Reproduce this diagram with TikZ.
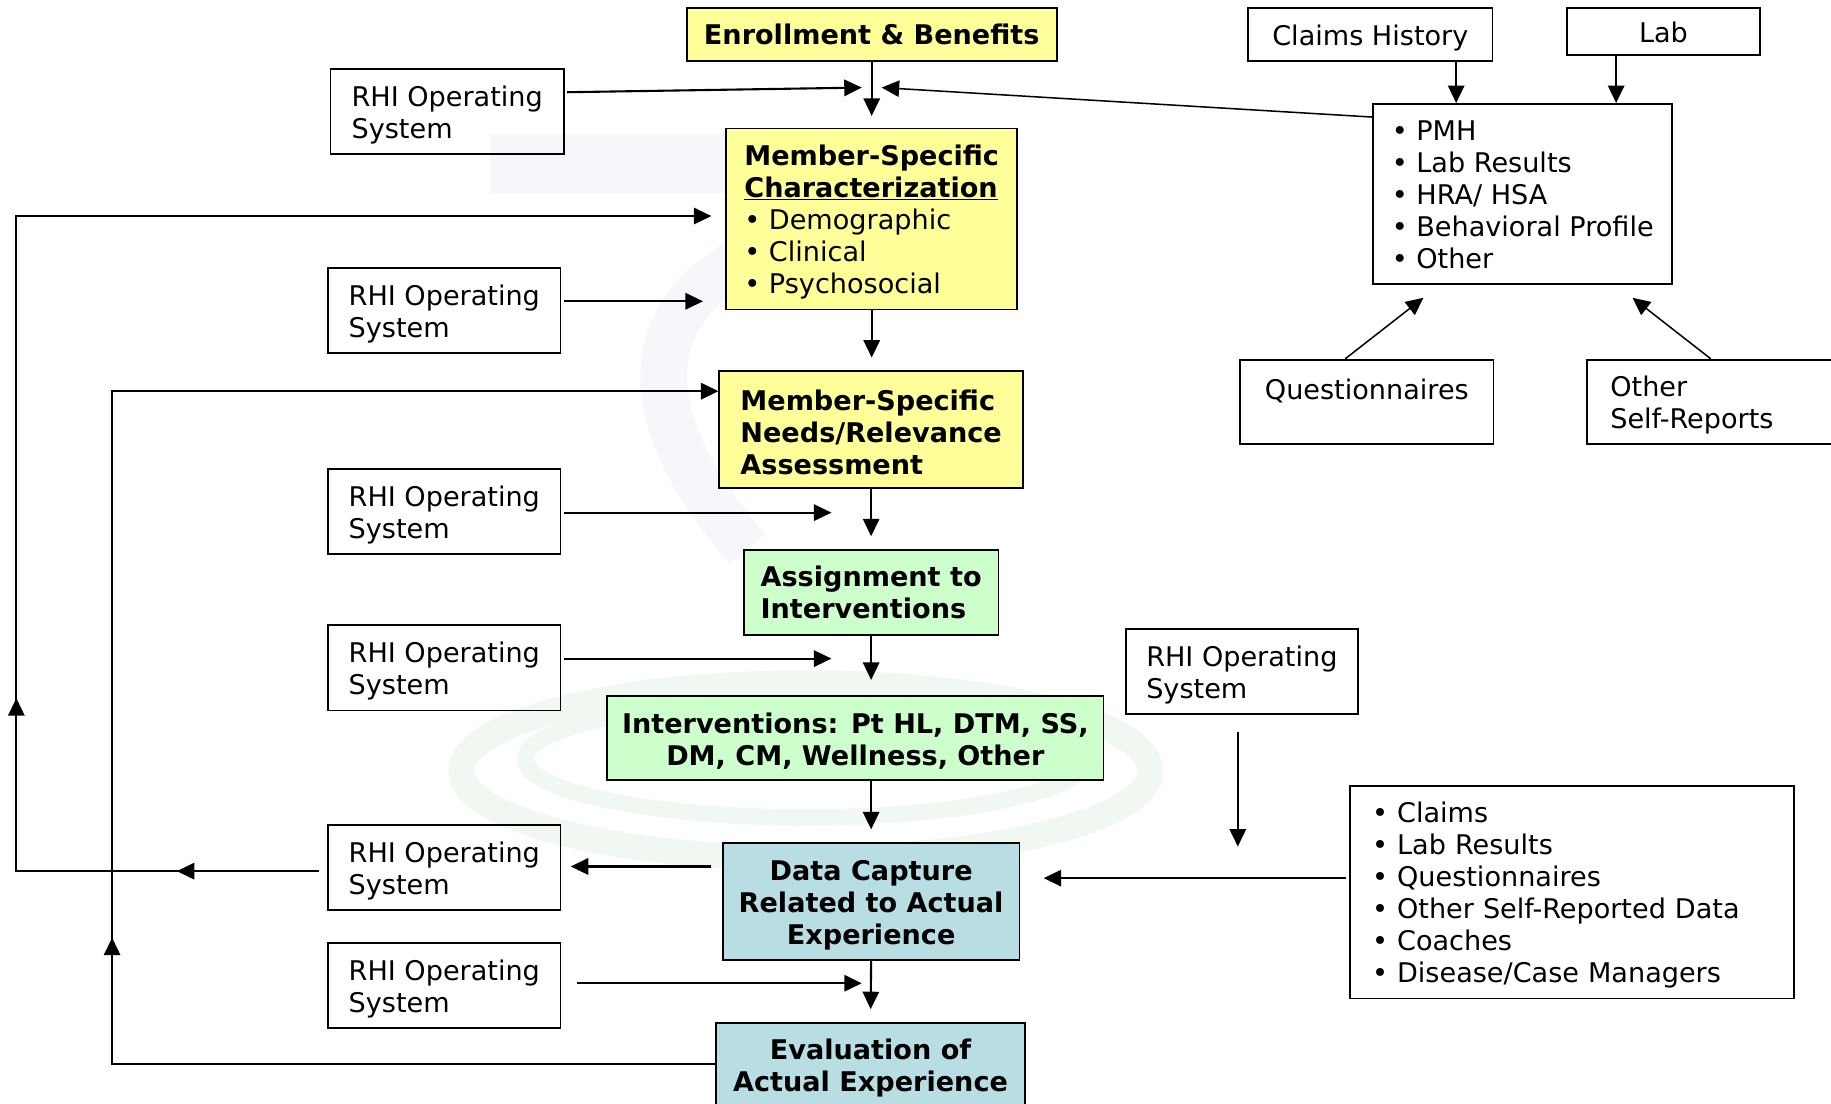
\documentclass[tikz,border=0pt]{standalone}
\usepackage{fontspec}
\setmainfont{DejaVu Sans}
\usetikzlibrary{arrows.meta,decorations.markings,calc}
\definecolor{ylw}{HTML}{FFFF99}
\definecolor{grn}{HTML}{CCFFCC}
\definecolor{blu}{HTML}{B8DEE4}
\definecolor{wmb}{HTML}{F5F7FB}
\definecolor{wmg}{HTML}{F1F8F2}
\newcommand\dfs{\fontsize{23.2}{27.4}\selectfont}
\newcommand\tp{\rule{0pt}{23pt}}
\begin{document}
\begin{tikzpicture}[x=1pt,y=-1pt,
  every node/.style={font=\dfs},
  box/.style={draw,line width=1.5pt,inner sep=0pt,align=left},
  rhi/.style={box,minimum width=199pt,minimum height=73pt},
  bfbox/.style={box,font=\dfs\bfseries},
  lw/.style={line width=1.8pt},
  arr/.style={line width=1.8pt,-{Triangle[length=15pt,width=14pt]}},
  thinarr/.style={line width=1.3pt,-{Triangle[length=15pt,width=14pt]}},
  midarr/.style={line width=1.8pt,postaction={decorate},
    decoration={markings,mark=at position #1 with {\arrow{Triangle[length=15pt,width=14pt]}}}}]
\useasboundingbox (0,0) rectangle (1568,945);
\fill[white] (0,0) rectangle (1568,945);
% watermark
\fill[wmb] (420,115) rectangle (625,165);
\draw[wmb,line width=40pt] (690,200) .. controls (560,240) and (520,330) .. (640,470);
\draw[wmg,line width=22pt] (690,660) ellipse [x radius=295pt, y radius=75pt];
\draw[wmg,line width=14pt] (690,650) ellipse [x radius=240pt, y radius=50pt];
% nodes
\node[bfbox,fill=ylw,minimum width=317pt,minimum height=45pt] (enr) at (746.5,29.5) {Enrollment \& Benefits};
\node[rhi,minimum width=200pt] (r1) at (383,95.5) {\tp RHI Operating\\System};
\node[box,fill=ylw,minimum width=249pt,minimum height=155pt] (msc) at (746.5,187.5)
  {\tp\textbf{Member-Specific}\\\textbf{\underline{Characterization}}\\• Demographic\\• Clinical\\• Psychosocial};
\node[box,minimum width=209pt,minimum height=45pt] (ch) at (1173.5,29.5) {\tp Claims History};
\node[box,minimum width=165pt,minimum height=40pt] (lab) at (1424.5,27) {\rule{0pt}{19pt}Lab};
\node[box,minimum width=256pt,minimum height=154pt] (pmh) at (1304,166)
  {\rule{0pt}{19pt}• PMH\\• Lab Results\\• HRA/ HSA\\• Behavioral Profile\\• Other};
\node[box,minimum width=217pt,minimum height=72pt] (q) at (1170.5,344) {\tp Questionnaires\\\phantom{X}};
\node[box,minimum width=230pt,minimum height=72pt,text width=190pt] (osr) at (1474,344) {\tp Other\\Self-Reports};
\node[rhi] (r2) at (380.5,266) {\tp RHI Operating\\System};
\node[bfbox,fill=ylw,minimum width=260pt,minimum height=100pt] (nra) at (746,368)
  {\tp Member-Specific\\Needs/Relevance\\Assessment};
\node[rhi] (r3) at (380.5,438) {\tp RHI Operating\\System};
\node[bfbox,fill=grn,minimum width=218pt,minimum height=73pt] (ai) at (746,507.5)
  {Assignment to\\Interventions};
\node[rhi] (r4) at (380.5,572) {\tp RHI Operating\\System};
\node[bfbox,fill=grn,minimum width=425pt,minimum height=72pt,align=center] (iv) at (732.5,632)
  {\tp Interventions: Pt HL, DTM, SS,\\DM, CM, Wellness, Other};
\node[rhi] (r5) at (1063.5,575) {\tp RHI Operating\\System};
\node[rhi] (r6) at (380.5,743) {\tp RHI Operating\\System};
\node[bfbox,fill=blu,minimum width=254pt,minimum height=100pt,align=center] (dc) at (746,772)
  {\tp Data Capture\\Related to Actual\\Experience};
\node[box,minimum width=380pt,minimum height=182pt,text width=342pt] (cl) at (1346,764)
  {\tp • Claims\\• Lab Results\\• Questionnaires\\• Other Self-Reported Data\\• Coaches\\• Disease/Case Managers};
\node[rhi] (r7) at (380.5,844) {\tp RHI Operating\\System};
\node[bfbox,fill=blu,minimum width=265pt,minimum height=72pt,align=center] (ev) at (745.5,912)
  {\tp Evaluation of\\Actual Experience};
% free ends and bends
\coordinate (t1) at (738,75);
\coordinate (t2) at (755,75);
\coordinate (t3) at (1219,255);
\coordinate (t4) at (1398,255);
\coordinate (t5) at (602,258);
\coordinate (t6) at (712,439);
\coordinate (t7) at (712,564);
\coordinate (t8) at (1060,725);
\coordinate (t9) at (738,842);
\coordinate (c1) at (14,746);
\coordinate (c2) at (14,185);
\coordinate (c3) at (96,911);
\coordinate (c4) at (96,335);
\coordinate (x1) at (1247,0);
\coordinate (x2) at (1384,0);
\coordinate (x3) at (1152,0);
\coordinate (x4) at (1465,0);
\coordinate (y1) at (0,742);
\coordinate (y2) at (0,752);
% connectors
\draw[arr,shorten <=2pt] ([yshift=16.5pt]r1.east) -- (t1);
\draw[thinarr] ([yshift=-12pt]pmh.north west) -- (t2);
\draw[arr,shorten >=10pt] (enr.south) -- (msc.north);
\draw[arr] (ch.south -| x1) -- (pmh.north -| x1);
\draw[arr] (lab.south -| x2) -- (pmh.north -| x2);
\draw[thinarr] (q.north -| x3) -- (t3);
\draw[thinarr] (osr.north -| x4) -- (t4);
\draw[arr,shorten <=2pt] (r2.east |- t5) -- (t5);
\draw[arr,shorten >=11pt] (msc.south) -- (msc.south |- nra.north);
\draw[arr,shorten <=2pt] (r3.east |- t6) -- (t6);
\draw[arr,shorten >=11pt] (nra.south) -- (ai.north);
\draw[arr,shorten <=2pt] (r4.east |- t7) -- (t7);
\draw[arr,shorten >=13pt] (ai.south) -- (ai.south |- iv.north);
\draw[arr,shorten >=11pt] (dc.north |- iv.south) -- (dc.north);
\draw[arr,shorten <=15pt] (r5.south -| t8) -- (t8);
\draw[arr,shorten <=9pt,shorten >=8pt] (dc.west |- y1) -- (r6.east |- y1);
\draw[arr,shorten <=3pt,shorten >=20pt] (cl.west |- y2) -- (dc.east |- y2);
\draw[arr,shorten <=13pt] (r7.east |- t9) -- (t9);
\draw[arr,shorten >=11pt] (dc.south) -- (ev.north);
% feedback loops
\draw[arr,shorten >=12pt] ([xshift=-7pt]r6.west |- c1) -- (c1) -- (c2) -- (msc.west |- c2);
\draw[midarr=0.47] ([xshift=-7pt]r6.west |- c1) -- (c1);
\draw[midarr=0.264] (c1) -- (c2);
\draw[arr] (ev.west |- c3) -- (c3) -- (c4) -- (nra.west |- c4);
\draw[midarr=0.1875] (c3) -- (c4);
\end{tikzpicture}
\end{document}
